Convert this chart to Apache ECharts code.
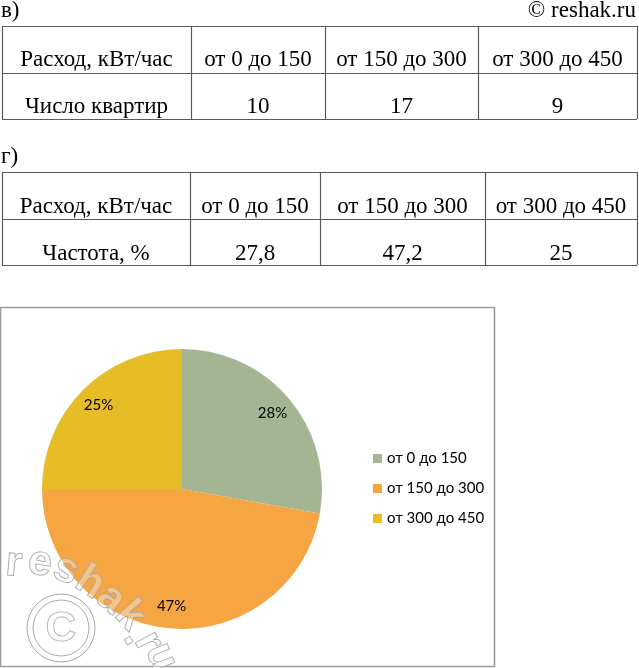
<!DOCTYPE html>
<html><head><meta charset="utf-8">
<script src="https://cdn.jsdelivr.net/npm/echarts@6/dist/echarts.min.js"></script>
<style>html,body{margin:0;padding:0;background:#fff}#c{width:639px;height:668px}</style>
</head><body><div id="c"></div>
<script>
// ---- data ----
const headerRow = ['Расход, кВт/час', 'от 0 до 150', 'от 150 до 300', 'от 300 до 450'];
const categories = ['от 0 до 150', 'от 150 до 300', 'от 300 до 450'];
const apartmentsLabel = 'Число квартир';
const apartments = [10, 17, 9];
const frequencyLabel = 'Частота, %';
const frequencyText = ['27,8', '47,2', '25'];
const frequency = [27.8, 47.2, 25];
const sliceColors = ['#A4B594', '#F5A542', '#E6BD27'];

// ---- layout (styling only) ----
const serifFamily = '"Liberation Serif", "Times New Roman", serif';
const serifSize = 23;
const sans = 'Lato';
const lineColor = '#5a5a5a';
const tables = [
  { title: 'в)', titleY: 11, cols: [2, 191, 325, 478, 637], rows: [26, 73, 119], textY: [60, 107], body: [apartmentsLabel].concat(apartments.map(String)) },
  { title: 'г)', titleY: 157, cols: [2, 190, 320, 485, 637], rows: [172, 219, 265], textY: [207, 254], body: [frequencyLabel].concat(frequencyText) }
];
function serifText(txt, x, y, align) {
  return { type: 'text', x: x, y: y, style: { text: txt, fontFamily: serifFamily, fontSize: serifSize, fill: '#000', align: align, verticalAlign: 'middle' } };
}

const graphics = [];
graphics.push(serifText('© reshak.ru', 636, 11, 'right'));
tables.forEach(t => {
  graphics.push(serifText(t.title, 1, t.titleY, 'left'));
  t.rows.forEach(y => graphics.push({ type: 'line', shape: { x1: t.cols[0], y1: y + 0.5, x2: t.cols[t.cols.length - 1], y2: y + 0.5 }, style: { stroke: lineColor, lineWidth: 1.2 } }));
  t.cols.forEach(x => graphics.push({ type: 'line', shape: { x1: x + 0.5, y1: t.rows[0], x2: x + 0.5, y2: t.rows[t.rows.length - 1] }, style: { stroke: lineColor, lineWidth: 1.2 } }));
  [headerRow, t.body].forEach((row, ri) => {
    row.forEach((txt, ci) => {
      graphics.push(serifText(txt, (t.cols[ci] + t.cols[ci + 1]) / 2, t.textY[ri], 'center'));
    });
  });
});
// chart box
graphics.push({ type: 'rect', z: -1, shape: { x: 0.5, y: 307.5, width: 494, height: 359 }, style: { fill: '#fff', stroke: '#9c9c9c', lineWidth: 1.6 } });

// watermark
const wm = [
  ['r', 14, 564, -5], ['e', 40, 563, -10], ['s', 66, 570, -20], ['h', 90, 583, -32],
  ['a', 111, 599, -40], ['k', 130, 616, -48], ['.', 136, 636, -58], ['r', 148, 642, -62], ['u', 161, 657, -68]
];
wm.forEach(w => graphics.push({ type: 'text', z: 100, x: w[1], y: w[2], rotation: w[3] * Math.PI / 180,
  style: { text: w[0], fontFamily: 'Liberation Sans', fontWeight: 'bold', fontSize: 42, fill: 'rgba(255,255,255,0.35)', stroke: '#a0a0a0', lineWidth: 1, align: 'center', verticalAlign: 'middle' } }));
graphics.push({ type: 'circle', z: 100, shape: { cx: 61, cy: 628, r: 34 }, style: { fill: 'rgba(255,255,255,0.35)', stroke: '#a8a8a8', lineWidth: 1 } });
graphics.push({ type: 'circle', z: 100, shape: { cx: 61, cy: 628, r: 28 }, style: { fill: 'none', stroke: '#a8a8a8', lineWidth: 1 } });
graphics.push({ type: 'text', z: 100, x: 61, y: 629, style: { text: 'C', fontFamily: 'Liberation Sans', fontWeight: 'bold', fontSize: 42, fill: 'rgba(255,255,255,0.5)', stroke: '#a0a0a0', lineWidth: 1, align: 'center', verticalAlign: 'middle' } });

const pieData = categories.map((n, i) => ({ name: n, value: frequency[i], itemStyle: { color: sliceColors[i] } }));
const labelData = categories.map((n, i) => ({ name: n, value: frequency[i] }));

const chart = echarts.init(document.getElementById('c'), null, { renderer: 'canvas' });
chart.setOption({
  animation: false,
  backgroundColor: '#fff',
  graphic: { elements: graphics },
  legend: {
    data: categories,
    orient: 'vertical',
    left: 368, top: 446,
    itemWidth: 9, itemHeight: 9, itemGap: 15,
    icon: 'rect',
    textStyle: { fontFamily: sans, fontSize: 15, color: '#000' }
  },
  series: [
    {
      type: 'pie', center: [182, 489], radius: [0, 140], startAngle: 90, clockwise: true,
      data: pieData, label: { show: false }, labelLine: { show: false },
      emphasis: { disabled: true }, silent: true
    },
    {
      type: 'pie', center: [182, 489], radius: [90, 140], startAngle: 90, clockwise: true,
      data: labelData, silent: true, legendHoverLink: false, emphasis: { disabled: true },
      itemStyle: { color: 'rgba(0,0,0,0)' },
      label: { show: true, position: 'inside', fontFamily: sans, fontSize: 15, color: '#000',
        formatter: p => Math.round(p.percent) + '%' },
      labelLine: { show: false }
    }
  ]
});
</script></body></html>
